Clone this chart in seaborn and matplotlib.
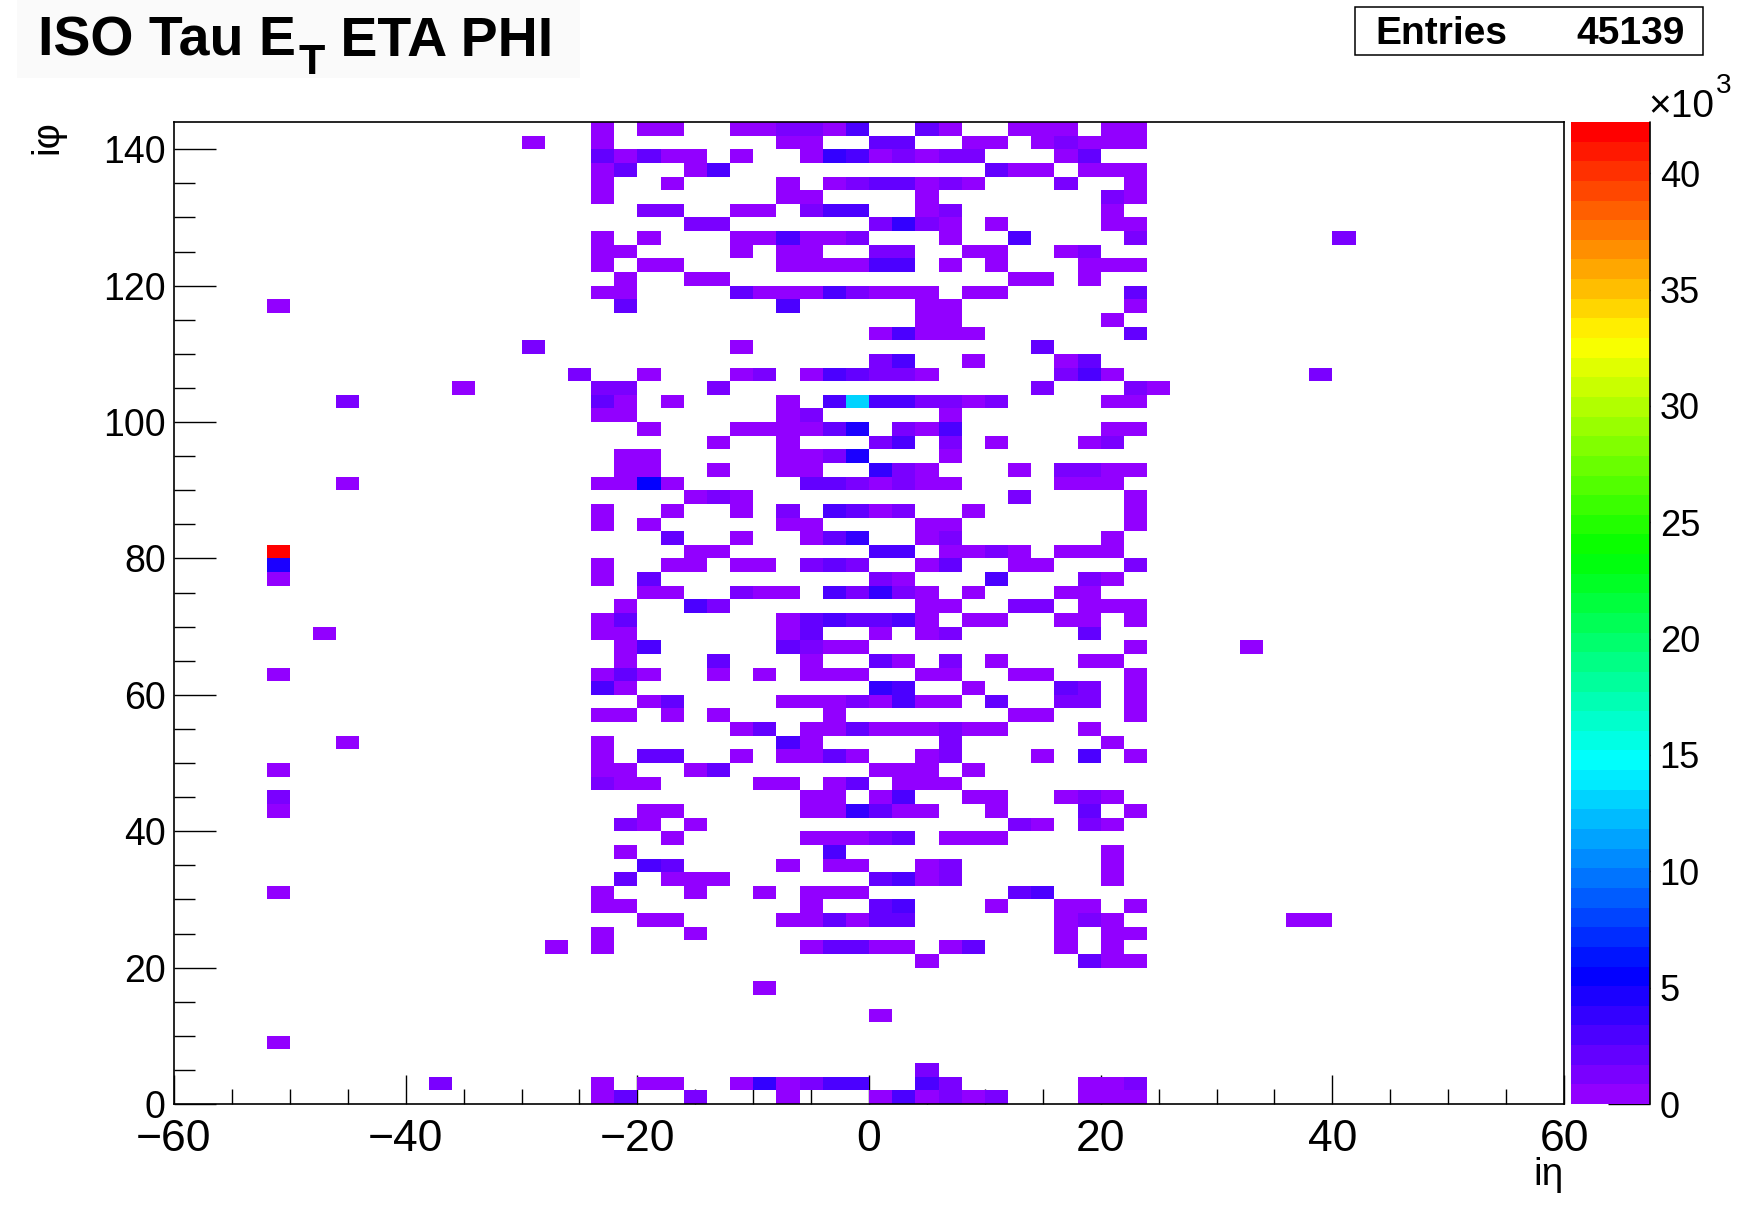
import colorsys
import numpy as np
import pandas as pd
import matplotlib
matplotlib.use('Agg')
import matplotlib.pyplot as plt
from matplotlib.colors import ListedColormap
from matplotlib.patches import Rectangle
from matplotlib.ticker import MultipleLocator
import seaborn as sns

# central block of towers: columns are ieta bins -24..24 (width 2),
# rows are iphi bins from 142 (top) down to 0; '.' = empty bin,
# other characters are the colour level read off the z scale
ETA_FIRST = -24
PHI_TOP = 142
ROW_CODES = [
    "0.00..001103..20..000.00",
    "0.......00..22..00.01000",
    "20200.0..04301011...02..",
    "02..03...........200.000",
    "0..0....0.0122010...1..0",
    "0.......00....0.......10",
    "..11..00.133..01......0.",
    "....11......1410.0....00",
    "0.0...003001...0..3....1",
    "00....0.00..11..00..01..",
    "0.00....000033.0.0...000",
    ".0..00............00.0..",
    "00....200031000.00.....2",
    ".2......3.....00.......0",
    "..............00......0.",
    "............03000......2",
    "......0............2....",
    "............13..0...02..",
    "..0...01.032110.....130.",
    "11...1.............1...1",
    "20.0....0.3c331101....00",
    "00......01.....0........",
    "..0...000025.103......00",
    ".....0..0...13.1.0...01.",
    ".00.....0015...0........",
    ".00..0..00..410...0.1100",
    "0060.....2210100....000.",
    "....010...........1....0",
    "0..0..0.1.3201..0......0",
    "0.0.....00....00.......0",
    "...2..0..024..01......0.",
    "....00......33.0010.000.",
    "0..00.00.121..02..00...1",
    "0.2.........10...3...10.",
    "..00..100.31410.0...00..",
    ".0..31........00..11.000",
    "02......0232230.00..00.0",
    "00......02..0.01.....2..",
    ".03.....2100...........0",
    ".0...2...0..20.1.0...00.",
    "020..0.0.000..00..00...0",
    "30..........43..0...21.0",
    "..02....00010300.2..11.0",
    "00.0.0....0.......00...0",
    "......02.002000100...0..",
    "0.......30.....1......0.",
    "0.22..0.0020..01...0.3.0",
    "00..02......000.0.......",
    "100....00.02.000........",
    ".........00.03..00..010.",
    "..00.....004200..0...2.0",
    ".10.0.............10.10.",
    "...0.....00012.000......",
    ".0........3...........0.",
    "..32....0.00..01......0.",
    ".2.000......2301......0.",
    "0...0..0.000......23....",
    "00.......0..23...0..00.0",
    "..00....002022......010.",
    "0...0...............0.00",
    "0........02200.02...0.0.",
    "..............0......200",
    "........................",
    ".......0................",
    "........................",
    "............0...........",
    "........................",
    "........................",
    "........................",
    "..............1.........",
    "0.00..040133..31.....001",
    "02..1...0...030101...000",
]

# isolated towers outside the central block (bin low edges)
OUT_ETA = [-30, -52, -30, -26, 38, -36, 24, -46, -46, -52, -52, -52, -48, 32,
           -52, -46, -52, -52, -52, -52, 36, 38, -28, -52, -38, 40]
OUT_PHI = [140, 116, 110, 106, 106, 104, 104, 102, 90, 80, 78, 76, 68, 66,
           62, 52, 48, 44, 42, 30, 26, 26, 22, 8, 2, 126]
OUT_CODE = ['0', '0', '1', '1', '1', '0', '0', '1', '0', 'r', '5', '0', '0', '0',
            '0', '0', '0', '1', '0', '0', '0', '0', '0', '0', '1', '1']

# estimated E_T (x10^3) for each colour level
LEVEL_ET = {'0': 0.42, '1': 1.27, '2': 2.11, '3': 2.95, '4': 3.80,
            '5': 4.64, '6': 5.49, 'c': 13.1, 'r': 42.2}
ZMAX = 42200
ENTRIES = 45139
X_TICKS = [-60, -40, -20, 0, 20, 40, 60]
Y_TICKS = [0, 20, 40, 60, 80, 100, 120, 140]
Z_TICKS = [0, 5, 10, 15, 20, 25, 30, 35, 40]

W, H = 1737, 1227

rows = []
for r, line in enumerate(ROW_CODES):
    assert len(line) == 24
    for c, ch in enumerate(line):
        if ch != '.':
            rows.append((ETA_FIRST + 2 * c + 1, PHI_TOP - 2 * r + 1, LEVEL_ET[ch] * 1000))
for e, p, ch in zip(OUT_ETA, OUT_PHI, OUT_CODE):
    rows.append((e + 1, p + 1, LEVEL_ET[ch] * 1000))
df = pd.DataFrame(rows, columns=['eta', 'phi', 'et'])

# ROOT "pretty palette": 49 hues from violet towards red, last one red
pal = [colorsys.hls_to_rgb((280 - (i + 1) * 5.6) / 360.0, 0.5, 1.0) for i in range(49)]
pal.append((1.0, 0.0, 0.0))
root_cmap = ListedColormap(pal)

sns.set_style('ticks')
plt.rcParams['font.family'] = ['Liberation Sans', 'DejaVu Sans']
plt.rcParams['axes.linewidth'] = 1.2
for key in ['text.color', 'axes.labelcolor', 'xtick.color', 'ytick.color', 'axes.edgecolor']:
    plt.rcParams[key] = 'black'

fig = plt.figure(figsize=(W / 100, H / 100), dpi=100)
fig.patch.set_facecolor('white')
ax = fig.add_axes([174 / W, 1 - 1104 / H, 1390 / W, 982 / H])
cax = fig.add_axes([1571 / W, 1 - 1104 / H, 79 / W, 982 / H])

sns.histplot(data=df, x='eta', y='phi', weights='et', binwidth=2,
             binrange=((-60, 60), (0, 144)), cmap=root_cmap, vmin=0, vmax=ZMAX,
             cbar=True, cbar_ax=cax, ax=ax)

ax.set_xlim(-60, 60)
ax.set_ylim(0, 144)
ax.set_xlabel('')
ax.set_ylabel('')
ax.set_xticks(X_TICKS)
ax.set_yticks(Y_TICKS)
ax.xaxis.set_minor_locator(MultipleLocator(5))
ax.yaxis.set_minor_locator(MultipleLocator(5))
ax.tick_params(axis='x', which='major', direction='in', length=21, width=1, labelsize=32, pad=11)
ax.tick_params(axis='x', which='minor', direction='in', length=10.5, width=1)
ax.tick_params(axis='y', which='major', direction='in', length=30, width=1, labelsize=27, pad=6)
ax.tick_params(axis='y', which='minor', direction='in', length=15, width=1)
ax.tick_params(top=False, right=False, which='both')
for s in ax.spines.values():
    s.set_visible(True)
    s.set_color('black')

cbar = ax.collections[0].colorbar
cbar.set_ticks([z * 1000 for z in Z_TICKS])
cbar.set_ticklabels([str(z) for z in Z_TICKS])
cbar.outline.set_visible(False)
cax.minorticks_off()
cax.tick_params(direction='in', length=30, width=1, labelsize=26, pad=7,
                right=True, left=False)
cax.plot([1, 1], [0, 1], transform=cax.transAxes, color='black', lw=1.2, clip_on=False)

# axis titles
fig.text(1564 / W, 1 - 1157 / H, 'i\u03b7', fontsize=28, ha='right', va='top')
fig.text(47 / W, 1 - 120 / H, 'i\u03c6', fontsize=28, ha='center', va='top', rotation=90)
fig.text(1648 / W, 1 - 117 / H, '\u00d710', fontsize=28, ha='left', va='baseline')
fig.text(1716 / W, 1 - 93 / H, '3', fontsize=20, ha='left', va='baseline')

# title pave
fig.patches.append(Rectangle((17 / W, 1 - 78 / H), 563 / W, 78 / H, transform=fig.transFigure,
                             facecolor='#fafafa', edgecolor='none', zorder=0))
renderer = fig.canvas.get_renderer()
base = 1 - 56 / H
t1 = fig.text(38 / W, base, 'ISO Tau E', fontsize=40, fontweight='bold', va='baseline')
x1 = t1.get_window_extent(renderer).x1 / W
t2 = fig.text(x1 + 3 / W, base - 18 / H, 'T', fontsize=31, fontweight='bold', va='baseline')
x2 = t2.get_window_extent(renderer).x1 / W
fig.text(x2, base, ' ETA PHI', fontsize=40, fontweight='bold', va='baseline')

# stats box
fig.patches.append(Rectangle((1355 / W, 1 - 55 / H), 348 / W, 48 / H, transform=fig.transFigure,
                             facecolor='white', edgecolor='black', lw=1.1))
fig.text(1375 / W, 1 - 44 / H, 'Entries', fontsize=28, fontweight='bold', va='baseline')
fig.text(1685 / W, 1 - 44 / H, str(ENTRIES), fontsize=28, fontweight='bold', va='baseline', ha='right')

fig.savefig('out.png', dpi=100)
